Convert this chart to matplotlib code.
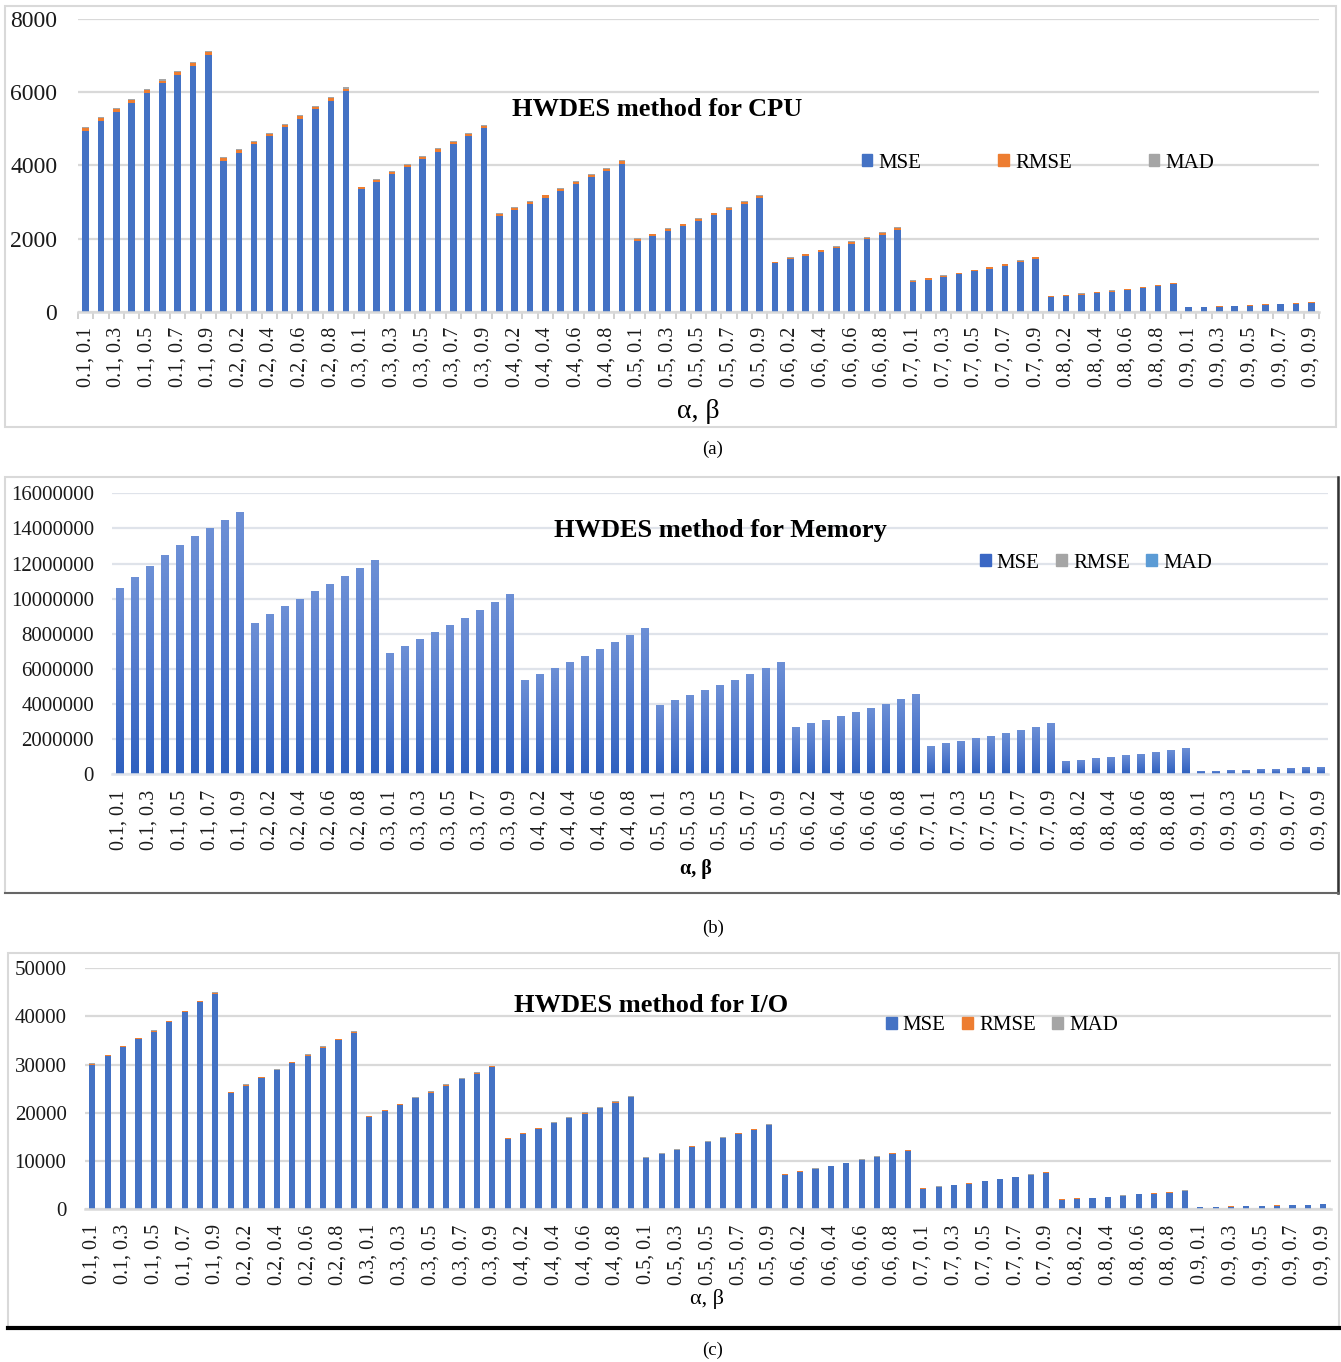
import numpy as np
import matplotlib
matplotlib.use("Agg")
import matplotlib.pyplot as plt
from matplotlib.colors import LinearSegmentedColormap
from matplotlib.patches import Rectangle
from matplotlib.lines import Line2D

plt.rcParams['font.family'] = ['Liberation Serif', 'DejaVu Serif']

# --- categories: every (alpha, beta) pair ---
alphas = ["0.1", "0.2", "0.3", "0.4", "0.5", "0.6", "0.7", "0.8", "0.9"]
betas = ["0.1", "0.2", "0.3", "0.4", "0.5", "0.6", "0.7", "0.8", "0.9"]
labels = [f"{a}, {b}" for a in alphas for b in betas]

# --- CPU (one row per alpha, beta = 0.1 .. 0.9) ---
cpu_mse = [
    [4940, 5210, 5460, 5700, 5970, 6240, 6470, 6710, 7010],
    [4130, 4350, 4580, 4800, 5040, 5280, 5530, 5770, 6020],
    [3340, 3540, 3750, 3950, 4160, 4370, 4570, 4800, 5010],
    [2620, 2780, 2940, 3120, 3290, 3480, 3670, 3850, 4050],
    [1940, 2070, 2210, 2340, 2480, 2640, 2790, 2940, 3110],
    [1320, 1430, 1530, 1640, 1740, 1860, 1980, 2110, 2240],
    [820, 880, 950, 1020, 1100, 1180, 1260, 1360, 1450],
    [410, 440, 470, 510, 550, 600, 650, 700, 750],
    [115, 125, 140, 150, 165, 185, 200, 220, 245],
]
cpu_rmse = [
    [70, 72, 74, 75, 77, 79, 80, 82, 84],
    [64, 66, 68, 69, 71, 73, 74, 76, 78],
    [58, 59, 61, 63, 64, 66, 68, 69, 71],
    [51, 53, 54, 56, 57, 59, 61, 62, 64],
    [44, 45, 47, 48, 50, 51, 53, 54, 56],
    [36, 38, 39, 40, 42, 43, 44, 46, 47],
    [29, 30, 31, 32, 33, 34, 35, 37, 38],
    [20, 21, 22, 23, 23, 24, 25, 26, 27],
    [11, 11, 12, 12, 13, 14, 14, 15, 16],
]
cpu_mad = [
    [26, 27, 28, 28, 29, 30, 30, 31, 32],
    [24, 25, 26, 26, 27, 28, 28, 29, 30],
    [22, 22, 23, 24, 24, 25, 26, 26, 27],
    [19, 20, 20, 21, 22, 22, 23, 24, 24],
    [17, 17, 18, 18, 19, 19, 20, 21, 21],
    [14, 14, 15, 15, 16, 16, 17, 17, 18],
    [11, 11, 12, 12, 13, 13, 13, 14, 14],
    [8, 8, 8, 9, 9, 9, 10, 10, 10],
    [4, 4, 5, 5, 5, 5, 5, 6, 6],
]

# --- Memory (MSE in millions) ---
mem_mse_m = [
    [10.59, 11.21, 11.86, 12.49, 13.05, 13.57, 14.02, 14.48, 14.93],
    [8.61, 9.13, 9.58, 9.98, 10.44, 10.83, 11.29, 11.75, 12.20],
    [6.91, 7.31, 7.70, 8.10, 8.50, 8.90, 9.35, 9.81, 10.27],
    [5.37, 5.71, 6.05, 6.39, 6.74, 7.13, 7.53, 7.93, 8.33],
    [3.95, 4.23, 4.52, 4.80, 5.09, 5.37, 5.71, 6.05, 6.38],
    [2.68, 2.90, 3.09, 3.32, 3.55, 3.78, 4.00, 4.29, 4.57],
    [1.59, 1.78, 1.90, 2.05, 2.18, 2.35, 2.52, 2.68, 2.90],
    [0.76, 0.84, 0.92, 1.00, 1.08, 1.17, 1.27, 1.38, 1.50],
    [0.18, 0.20, 0.23, 0.26, 0.29, 0.32, 0.36, 0.40, 0.44],
]
mem_rmse = [
    [3254, 3348, 3444, 3534, 3612, 3684, 3744, 3805, 3864],
    [2934, 3022, 3095, 3159, 3231, 3291, 3360, 3428, 3493],
    [2629, 2704, 2775, 2846, 2915, 2983, 3058, 3132, 3205],
    [2317, 2390, 2460, 2528, 2596, 2670, 2744, 2816, 2886],
    [1987, 2057, 2126, 2191, 2256, 2317, 2390, 2460, 2526],
    [1637, 1703, 1758, 1822, 1884, 1944, 2000, 2071, 2138],
    [1261, 1334, 1378, 1432, 1476, 1533, 1587, 1637, 1703],
    [872, 917, 959, 1000, 1039, 1082, 1127, 1175, 1225],
    [424, 447, 480, 510, 539, 566, 600, 632, 663],
]
mem_mad = [
    [2600, 2680, 2750, 2830, 2890, 2950, 3000, 3040, 3090],
    [2350, 2420, 2480, 2530, 2580, 2630, 2690, 2740, 2790],
    [2100, 2160, 2220, 2280, 2330, 2390, 2450, 2510, 2560],
    [1850, 1910, 1970, 2020, 2080, 2140, 2200, 2250, 2310],
    [1590, 1650, 1700, 1750, 1800, 1850, 1910, 1970, 2020],
    [1310, 1360, 1410, 1460, 1510, 1560, 1600, 1660, 1710],
    [1010, 1070, 1100, 1150, 1180, 1230, 1270, 1310, 1360],
    [700, 730, 770, 800, 830, 870, 900, 940, 980],
    [340, 360, 380, 410, 430, 450, 480, 510, 530],
]

# --- I/O ---
io_mse = [
    [29950, 31750, 33600, 35280, 36870, 38790, 40850, 42920, 44650],
    [24100, 25620, 27200, 28790, 30300, 31820, 33490, 35070, 36650],
    [19140, 20320, 21620, 23000, 24180, 25620, 26930, 28100, 29480],
    [14600, 15640, 16670, 17770, 18800, 19830, 20930, 22110, 23210],
    [10550, 11380, 12200, 12950, 13850, 14670, 15630, 16460, 17420],
    [7120, 7730, 8290, 8830, 9460, 10140, 10760, 11510, 12140],
    [4250, 4590, 4930, 5270, 5750, 6160, 6570, 7040, 7530],
    [1940, 2140, 2260, 2470, 2740, 3020, 3210, 3410, 3760],
    [390, 400, 510, 580, 650, 720, 790, 860, 990],
]
io_rmse = [
    [173, 178, 183, 188, 192, 197, 202, 207, 211],
    [155, 160, 165, 170, 174, 178, 183, 187, 191],
    [138, 143, 147, 152, 155, 160, 164, 168, 172],
    [121, 125, 129, 133, 137, 141, 145, 149, 152],
    [103, 107, 110, 114, 118, 121, 125, 128, 132],
    [84, 88, 91, 94, 97, 101, 104, 107, 110],
    [65, 68, 70, 73, 76, 78, 81, 84, 87],
    [44, 46, 48, 50, 52, 55, 57, 58, 61],
    [20, 20, 23, 24, 25, 27, 28, 29, 31],
]
io_mad = [
    [137, 141, 145, 149, 152, 156, 160, 164, 167],
    [123, 127, 131, 135, 138, 141, 145, 148, 151],
    [110, 113, 117, 120, 123, 127, 130, 133, 136],
    [96, 99, 102, 105, 108, 112, 115, 118, 121],
    [82, 85, 87, 90, 93, 96, 99, 101, 104],
    [67, 70, 72, 74, 77, 80, 82, 85, 87],
    [52, 54, 56, 58, 60, 62, 64, 66, 69],
    [35, 37, 38, 40, 41, 43, 45, 46, 48],
    [16, 16, 18, 19, 20, 21, 22, 23, 25],
]

series_names = ["MSE", "RMSE", "MAD"]

W, H = 1341, 1362
fig = plt.figure(figsize=(W / 100, H / 100), dpi=100)
fig.patch.set_facecolor("white")


def px_axes(left, right, y0, ytop):
    # axes placed by pixel coordinates (y measured from the top)
    return fig.add_axes([left / W, 1 - y0 / H, (right - left) / W, (y0 - ytop) / H])


def box(x0, y0, x1, y1, color="#d9d9d9", lw=1.5):
    fig.add_artist(Rectangle((x0 / W, 1 - y1 / H), (x1 - x0) / W, (y1 - y0) / H,
                             transform=fig.transFigure, fill=False,
                             edgecolor=color, linewidth=lw))


def hline(x0, x1, y, color, lw):
    fig.add_artist(Line2D([x0 / W, x1 / W], [1 - y / H, 1 - y / H],
                          transform=fig.transFigure, color=color, linewidth=lw))


def vline(x, y0, y1, color, lw):
    fig.add_artist(Line2D([x / W, x / W], [1 - y0 / H, 1 - y1 / H],
                          transform=fig.transFigure, color=color, linewidth=lw))


def text_px(x, y, s, **kw):
    fig.text(x / W, 1 - y / H, s, ha="center", va="center", **kw)


def draw_panel(ax, mse, rmse, mad, colors, ymax, ystep, ytick_size, ypad,
               width, grid_color, gradient=None, boundary_ticks=False):
    x = np.arange(len(labels))
    mse = np.ravel(mse)
    rmse = np.ravel(rmse)
    mad = np.ravel(mad)

    bars = ax.bar(x, mse, width=width, color=colors[0], zorder=2)
    if gradient is not None:
        grad = np.linspace(0, 1, 256).reshape(-1, 1)
        for r in bars:
            im = ax.imshow(grad, cmap=gradient, origin="lower", aspect="auto",
                           extent=[r.get_x(), r.get_x() + r.get_width(), 0, r.get_height()],
                           zorder=2.5)
            im.set_clip_path(r)
    ax.bar(x, rmse, width=width, bottom=mse, color=colors[1], zorder=3)
    ax.bar(x, mad, width=width, bottom=mse + rmse, color=colors[2], zorder=3)

    ax.set_xlim(-0.5, len(labels) - 0.5)
    ax.set_ylim(0, ymax)
    ax.set_yticks(np.arange(0, ymax + 1, ystep))
    ax.set_yticklabels([str(int(v)) for v in np.arange(0, ymax + 1, ystep)])
    ax.yaxis.grid(True, color=grid_color, linewidth=1.6, zorder=0)
    ax.set_axisbelow(True)
    for s in ["top", "right", "left"]:
        ax.spines[s].set_visible(False)
    ax.spines["bottom"].set_color(grid_color)
    ax.spines["bottom"].set_linewidth(1.8)
    ax.set_facecolor("none")

    ax.set_xticks(x[::2])
    ax.set_xticklabels(labels[::2], rotation=90, fontsize=14.4, color="#1a1a1a")
    ax.tick_params(axis="y", length=0, pad=ypad, labelsize=ytick_size, labelcolor="#1a1a1a")
    if boundary_ticks:
        ax.set_xticks(np.arange(-0.5, len(labels), 1), minor=True)
        ax.tick_params(axis="x", which="minor", length=5, width=1.2, color="#c8c8c8")
    ax.tick_params(axis="x", which="major", length=0, pad=11)


def legend(ax, colors, cx, cy, spacing):
    handles = [Rectangle((0, 0), 1, 1, color=c) for c in colors]
    ax.legend(handles, series_names, loc="center", ncol=3, frameon=False,
              bbox_to_anchor=(cx / W, 1 - cy / H), bbox_transform=fig.transFigure,
              fontsize=15, handlelength=0.5, handleheight=0.5, handletextpad=0.3,
              columnspacing=spacing, borderpad=0)


# ---------------- (a) CPU ----------------
box(5, 6, 1336, 427)
ax_a = px_axes(78, 1319, 311.7, 19)
cpu_colors = ["#4472C4", "#ED7D31", "#A5A5A5"]
draw_panel(ax_a, cpu_mse, cpu_rmse, cpu_mad, cpu_colors, 8000, 2000, 17, 15,
           0.43, "#d9d9d9", boundary_ticks=True)
text_px(657, 109, "HWDES method for CPU", fontsize=19, fontweight="bold")
legend(ax_a, cpu_colors, 1038, 163, 3.7)
text_px(698, 411, "α, β", fontsize=20)
text_px(713, 449, "(a)", fontsize=13.5)

# ---------------- (b) Memory ----------------
box(5, 477, 1338, 893)
vline(1338, 477, 893, "#333333", 1.8)
hline(5, 1338, 893, "#666666", 1.5)
ax_b = px_axes(112, 1328, 774.3, 493.3)
mem_colors = ["#3a67c4", "#A5A5A5", "#5B9BD5"]
mem_grad = LinearSegmentedColormap.from_list("mem", ["#2e60bf", "#4f78cc", "#6d90d6"])
mem_mse = np.array(mem_mse_m) * 1e6
draw_panel(ax_b, mem_mse, mem_rmse, mem_mad, mem_colors, 16000000, 2000000, 15, 13,
           0.47, "#dfe3ea", gradient=mem_grad)
text_px(720, 531, "HWDES method for Memory", fontsize=19, fontweight="bold")
legend(ax_b, mem_colors, 1096, 563, 0.8)
text_px(696, 869, "α, β", fontsize=14.5, fontweight="bold")
text_px(713, 928, "(b)", fontsize=13.5)

# ---------------- (c) I/O ----------------
box(8, 953, 1339, 1328)
hline(8, 1341, 1328, "#000000", 3)
ax_c = px_axes(84.6, 1331, 1209, 968.3)
io_colors = ["#4472C4", "#ED7D31", "#A5A5A5"]
draw_panel(ax_c, io_mse, io_rmse, io_mad, io_colors, 50000, 10000, 15, 13,
           0.40, "#d9d9d9")
text_px(651, 1005, "HWDES method for I/O", fontsize=19, fontweight="bold")
legend(ax_c, io_colors, 1002, 1026, 0.8)
text_px(707, 1299, "α, β", fontsize=16)
text_px(713, 1350, "(c)", fontsize=13.5)

fig.savefig("out.png", dpi=100, facecolor="white")
